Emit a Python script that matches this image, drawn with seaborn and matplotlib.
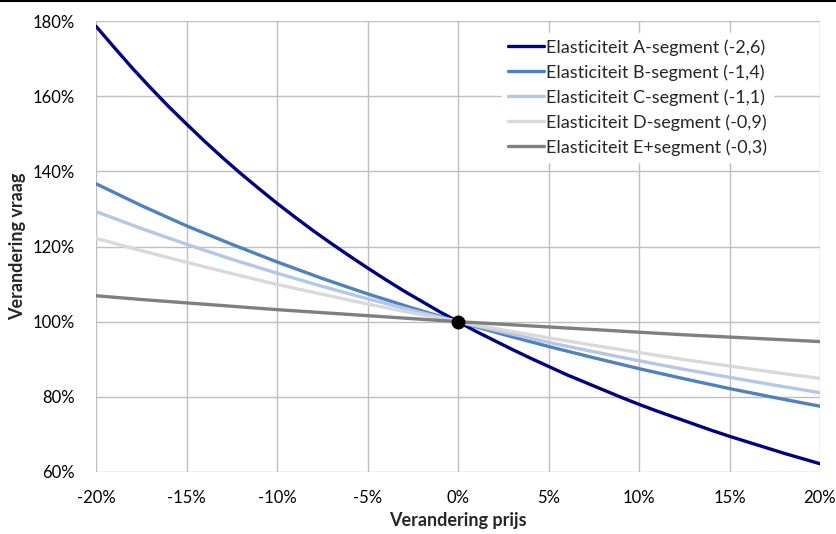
import numpy as np
import pandas as pd
import matplotlib
matplotlib.use("Agg")
import matplotlib.pyplot as plt
from matplotlib.lines import Line2D
from matplotlib.ticker import FuncFormatter
import seaborn as sns

# A-segment read at 1% steps (strong curvature)
price_change_a = [-20, -19, -18, -17, -16, -15, -14, -13, -12, -11, -10, -9, -8, -7, -6, -5, -4, -3, -2, -1,
                  0, 1, 2, 3, 4, 5, 6, 7, 8, 9, 10, 11, 12, 13, 14, 15, 16, 17, 18, 19, 20]
seg_a = [178.6, 173.0, 167.5, 162.3, 157.3, 152.6, 148.0, 143.6, 139.4, 135.4, 131.5, 127.8, 124.2, 120.8,
         117.5, 114.3, 111.2, 108.2, 105.4, 102.6, 100, 97.4, 95.0, 92.6, 90.3, 88.1, 85.9, 83.9, 81.9, 79.9,
         78.0, 76.2, 74.5, 72.8, 71.1, 69.5, 68.0, 66.5, 65.0, 63.6, 62.2]
# other segments read at 2.5% steps
price_change = [-20, -17.5, -15, -12.5, -10, -7.5, -5, -2.5, 0, 2.5, 5, 7.5, 10, 12.5, 15, 17.5, 20]
seg_b = [136.7, 130.9, 125.5, 120.6, 115.9, 111.5, 107.4, 103.6, 100, 96.6, 93.4, 90.4, 87.5, 84.8, 82.2, 79.8, 77.5]
seg_c = [129.3, 124.8, 120.6, 116.6, 112.9, 109.4, 106.1, 103.0, 100, 97.2, 94.5, 92.0, 89.6, 87.3, 85.2, 83.1, 81.1]
seg_d = [122.2, 118.9, 115.8, 112.8, 109.9, 107.3, 104.7, 102.3, 100, 97.8, 95.7, 93.7, 91.8, 89.9, 88.2, 86.5, 84.9]
seg_e = [106.9, 105.9, 105.0, 104.1, 103.2, 102.4, 101.6, 100.8, 100, 99.3, 98.6, 97.9, 97.2, 96.5, 95.9, 95.3, 94.7]

labels = ["Elasticiteit A-segment (-2,6)", "Elasticiteit B-segment (-1,4)",
          "Elasticiteit C-segment (-1,1)", "Elasticiteit D-segment (-0,9)",
          "Elasticiteit E+segment (-0,3)"]
colors = ["#000080", "#4F81BD", "#B4C7E7", "#D9D9D9", "#7F7F7F"]
x_ticks = [-20, -15, -10, -5, 0, 5, 10, 15, 20]
y_ticks = [60, 80, 100, 120, 140, 160, 180]
origin_x = [0]
origin_y = [100]

rows = []
series_x = [price_change_a, price_change, price_change, price_change, price_change]
for lab, xs, vals in zip(labels, series_x, [seg_a, seg_b, seg_c, seg_d, seg_e]):
    for xv, yv in zip(xs, vals):
        rows.append({"prijs": xv, "vraag": yv, "segment": lab})
df = pd.DataFrame(rows)

sns.set_theme(style="white")
plt.rcParams['font.family'] = ['Lato', 'DejaVu Sans']

fig = plt.figure(figsize=(8.36, 5.34), dpi=100)
ax = fig.add_axes([96/836, 1-472/534, (820-96)/836, (472-21)/534])

sns.lineplot(data=df, x="prijs", y="vraag", hue="segment", hue_order=labels,
             palette=colors, linewidth=2.4, ax=ax, zorder=3)
ax.plot(origin_x, origin_y, 'o', color='black', markersize=9, zorder=5)

ax.set_xlim(-20, 20)
ax.set_ylim(60, 180)
ax.set_xticks(x_ticks)
ax.set_yticks(y_ticks)
ax.xaxis.set_major_formatter(FuncFormatter(lambda v, p: f"{int(round(v))}%"))
ax.yaxis.set_major_formatter(FuncFormatter(lambda v, p: f"{int(round(v))}%"))
ax.grid(True, color="#BFBFBF", linewidth=1.0, zorder=0)
for s in ax.spines.values():
    s.set_visible(False)
ax.tick_params(axis='both', which='major', length=5, width=1.0, color="#BFBFBF",
               labelsize=12, labelcolor="#000000", direction='out', pad=8)
ax.tick_params(axis='y', pad=10)
ax.set_xlabel("Verandering prijs", fontsize=13, fontweight='bold', labelpad=4)
ax.set_ylabel("Verandering vraag", fontsize=13, fontweight='bold', labelpad=5)

leg = ax.legend(loc='upper left', bbox_to_anchor=(0.561, 0.974), fontsize=13,
                frameon=True, framealpha=1, edgecolor='white', facecolor='white',
                handlelength=1.95, handletextpad=0.12, labelspacing=0.47,
                borderpad=0.35, borderaxespad=0, fancybox=False)
for line in leg.get_lines():
    line.set_linewidth(2.4)

fig.add_artist(Line2D([0, 1], [0.999, 0.999], color='black', linewidth=1.5,
                      transform=fig.transFigure))

fig.savefig("out.png", dpi=100, facecolor='white')
